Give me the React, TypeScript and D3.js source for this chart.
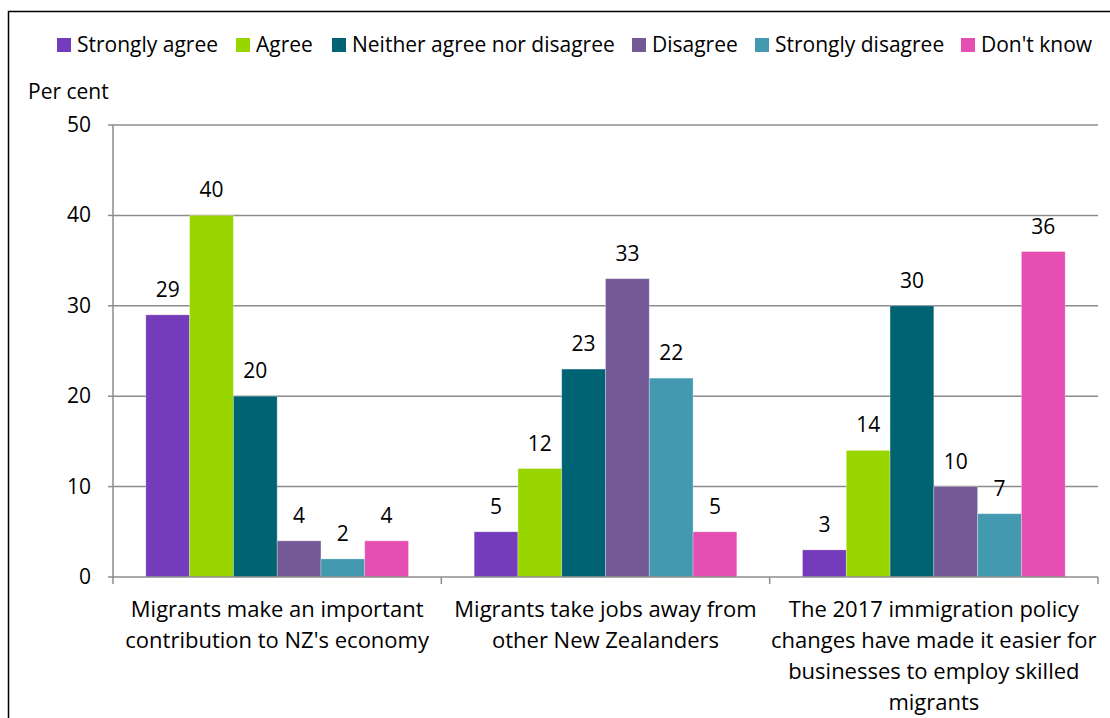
import React, { useEffect, useRef } from "react";
import * as d3 from "d3";

const categories = [
  ["Migrants make an important", "contribution to NZ's economy"],
  ["Migrants take jobs away from", "other New Zealanders"],
  ["The 2017 immigration policy", "changes have made it easier for", "businesses to employ skilled", "migrants"],
];
const seriesNames = ["Strongly agree", "Agree", "Neither agree nor disagree", "Disagree", "Strongly disagree", "Don't know"];
const seriesColors = ["#743BBA", "#99D600", "#006373", "#735A96", "#4299B0", "#E64FB2"];
const stronglyAgree = [29, 5, 3];
const agree = [40, 12, 14];
const neither = [20, 23, 30];
const disagree = [4, 33, 10];
const stronglyDisagree = [2, 22, 7];
const dontKnow = [4, 5, 36];
const yTicks = [0, 10, 20, 30, 40, 50];

const FONT = "'Open Sans', Lato, sans-serif";
const FS = 21;
const FSC = 22;

export default function App() {
  const ref = useRef<SVGSVGElement>(null);
  useEffect(() => {
    const svg = d3.select(ref.current);
    svg.selectAll("*").remove();
    const series = [stronglyAgree, agree, neither, disagree, stronglyDisagree, dontKnow];
    const left = 113, right = 1098, top = 125, bottom = 577;

    svg.append("rect").attr("x", 8.5).attr("y", 11.5).attr("width", 1120).attr("height", 720)
      .attr("fill", "white").attr("stroke", "#000").attr("stroke-width", 1.5);

    const y = d3.scaleLinear().domain([0, 50]).range([bottom, top]);
    const x0 = d3.scaleBand().domain(d3.range(3).map(String)).range([left, right]).paddingInner(0).paddingOuter(0);
    const bw = x0.bandwidth();
    const barW = bw / (6 + 1.5);
    const g = svg.append("g");
    g.selectAll("line.grid").data(yTicks.filter(t => t > 0)).join("line")
      .attr("x1", left).attr("x2", right).attr("y1", d => y(d)).attr("y2", d => y(d))
      .attr("stroke", "#8c8c8c").attr("stroke-width", 1.5);
    g.append("line").attr("x1", left).attr("x2", left).attr("y1", top).attr("y2", bottom)
      .attr("stroke", "#8c8c8c").attr("stroke-width", 1.5);
    g.selectAll("line.yt").data(yTicks).join("line")
      .attr("x1", left - 5).attr("x2", left).attr("y1", d => y(d)).attr("y2", d => y(d))
      .attr("stroke", "#8c8c8c").attr("stroke-width", 1.5);
    g.selectAll("text.yl").data(yTicks).join("text")
      .attr("x", 91).attr("y", d => y(d) + 7).attr("text-anchor", "end")
      .attr("font-family", FONT).attr("font-size", FS).attr("fill", "#000").text(d => String(d));

    const gapOuter = (bw - barW * 6) / 2;
    series.forEach((vals, si) => {
      vals.forEach((v, ci) => {
        const bx = (x0(String(ci)) as number) + gapOuter + si * barW;
        g.append("rect").attr("x", bx).attr("y", y(v)).attr("width", barW).attr("height", y(0) - y(v))
          .attr("fill", seriesColors[si]).attr("stroke", "#ffffff").attr("stroke-opacity", 0.35).attr("stroke-width", 0.8);
        g.append("text").attr("x", bx + barW / 2).attr("y", y(v) - 18).attr("text-anchor", "middle")
          .attr("font-family", FONT).attr("font-size", FS).attr("fill", "#000").text(String(v));
      });
    });

    g.append("line").attr("x1", left).attr("x2", right).attr("y1", bottom).attr("y2", bottom)
      .attr("stroke", "#8c8c8c").attr("stroke-width", 1.5);
    const xt = [0, 1, 2].map(i => x0(String(i)) as number).concat([right]);
    g.selectAll("line.xt").data(xt).join("line")
      .attr("x1", d => d).attr("x2", d => d).attr("y1", bottom).attr("y2", bottom + 7)
      .attr("stroke", "#8c8c8c").attr("stroke-width", 1.5);
    categories.forEach((lines, ci) => {
      const cx = (x0(String(ci)) as number) + bw / 2;
      lines.forEach((ln, li) => {
        g.append("text").attr("x", cx).attr("y", 617 + li * 31).attr("text-anchor", "middle")
          .attr("font-family", FONT).attr("font-size", FSC).attr("fill", "#000").text(ln);
      });
    });

    g.append("text").attr("x", 28).attr("y", 99).attr("font-family", FONT).attr("font-size", FS)
      .attr("fill", "#000").text("Per cent");

    const legX = [57, 236, 332, 632, 755, 961];
    seriesNames.forEach((name, i) => {
      g.append("rect").attr("x", legX[i]).attr("y", 38).attr("width", 14).attr("height", 14).attr("fill", seriesColors[i]);
      g.append("text").attr("x", legX[i] + 20).attr("y", 52).attr("font-family", FONT).attr("font-size", FS)
        .attr("fill", "#000").text(name);
    });
  }, []);
  return (
    <svg ref={ref} width={1110} height={718} style={{ position: "absolute", left: 0, top: 0, background: "#fff" }} />
  );
}
